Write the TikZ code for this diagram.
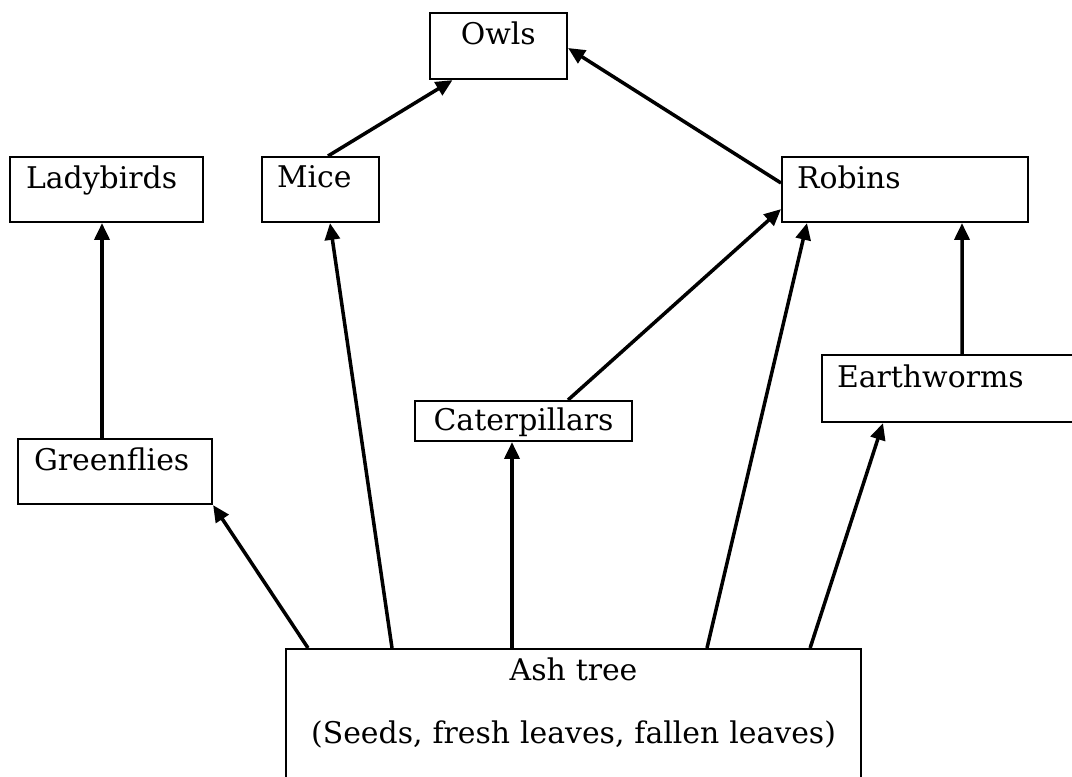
\documentclass[tikz,border=0pt]{standalone}
\usepackage{fontspec}
\setmainfont{DejaVu Serif}
\usetikzlibrary{arrows.meta}
\tikzset{
  box/.style={rectangle,draw=black,line width=1.2pt,anchor=north west,inner ysep=0pt,inner xsep=0.3cm,align=left,font=\fontsize{17}{20}\selectfont},
  boxc/.style={box,inner xsep=0pt,align=center},
  arrow/.style={-{Triangle[length=9.5pt,width=8.5pt]},line width=2pt}
}
\begin{document}
\begin{tikzpicture}
  \useasboundingbox (0,0) rectangle (21.44,-15.52);
  % feeding levels
  \node[boxc,text width=2.75cm,text height=0.62cm,text depth=0.70cm] (owls) at (8.57,-0.24) {Owls};
  \node[box,inner xsep=0.32cm,text width=3.22cm,text height=0.62cm,text depth=0.68cm] (lady) at (0.18,-3.12) {Ladybirds};
  \node[box,text width=1.74cm,text height=0.60cm,text depth=0.70cm] (mice) at (5.22,-3.12) {Mice};
  \node[box,text width=4.32cm,text height=0.62cm,text depth=0.68cm] (robins) at (15.62,-3.12) {Robins};
  \node[box,text width=5.4cm,text height=0.64cm,text depth=0.70cm] (worms) at (16.42,-7.08) {Earthworms};
  \node[boxc,text width=4.34cm,text height=0.58cm,text depth=0.22cm] (cater) at (8.28,-8.0) {Caterpillars};
  \node[box,inner xsep=0.32cm,text width=3.24cm,text height=0.62cm,text depth=0.68cm] (green) at (0.34,-8.76) {Greenflies};
  \node[boxc,text width=11.5cm,text height=0.62cm,text depth=2.22cm] (ash) at (5.70,-12.96) {Ash tree\\[0.574cm](Seeds, fresh leaves, fallen leaves)};
  % who eats what
  \draw[arrow] ([xshift=0.46cm]ash.north west) -- (green.south east);
  \draw[arrow] ([xshift=2.14cm]ash.north west) -- ([xshift=1.38cm]mice.south west);
  \draw[arrow] ([xshift=4.54cm]ash.north west) -- ([xshift=1.96cm]cater.south west);
  \draw[arrow] ([xshift=8.44cm]ash.north west) -- ([xshift=0.52cm]robins.south west);
  \draw[arrow] ([xshift=-1.04cm]ash.north east) -- ([xshift=1.24cm]worms.south west);
  \draw[arrow] ([xshift=1.70cm]green.north west) -- ([xshift=1.86cm]lady.south west);
  \draw[arrow] ([xshift=1.34cm]mice.north west) -- ([xshift=0.48cm]owls.south west);
  \draw[arrow] ([yshift=-0.54cm]robins.north west) -- ([yshift=-0.72cm]owls.north east);
  \draw[arrow] ([xshift=3.08cm]cater.north west) -- ([yshift=0.28cm]robins.south west);
  \draw[arrow] ([xshift=2.82cm]worms.north west) -- ([xshift=3.62cm]robins.south west);
\end{tikzpicture}
\end{document}
